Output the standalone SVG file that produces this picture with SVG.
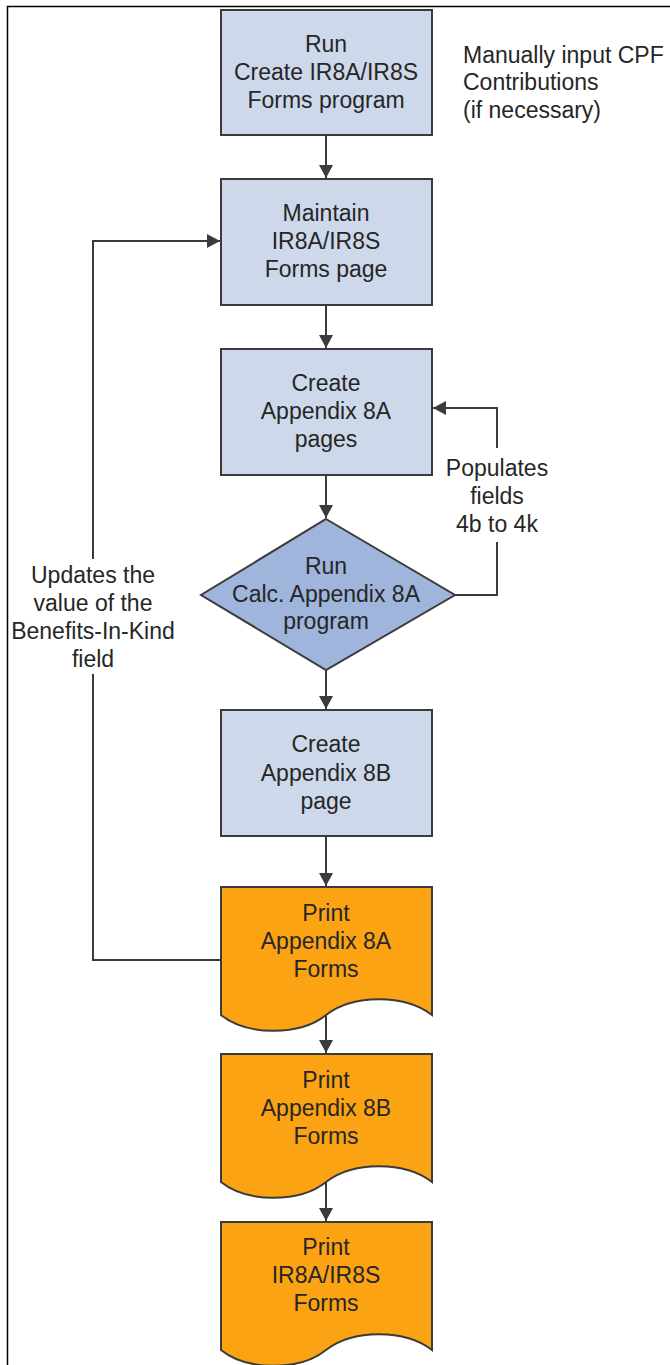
<svg xmlns="http://www.w3.org/2000/svg" width="670" height="1365" viewBox="0 0 670 1365">
<style>
.box{fill:#cdd9eb;stroke:#3b3b3b;stroke-width:2}
.dia{fill:#9fb5dc;stroke:#3b3b3b;stroke-width:2}
.doc{fill:#fba313;stroke:#3b3b3b;stroke-width:2}
.ln{fill:none;stroke:#3b3b3b;stroke-width:2}
text{font-family:"Liberation Sans",Arial,sans-serif;font-size:23px;fill:#262626}
.c{text-anchor:middle}
</style>
<defs>
<marker id="ah" viewBox="0 0 13 14" refX="13" refY="7" markerWidth="13" markerHeight="14" markerUnits="userSpaceOnUse" orient="auto">
<path d="M0,0 L13,7 L0,14 Z" fill="#3b3b3b"/>
</marker>
</defs>
<rect width="670" height="1365" fill="#fff"/>
<path d="M7.5,1365 V6.5 H670" fill="none" stroke="#000" stroke-width="1.5"/>
<g id="connectors">
<path class="ln" d="M326,135 V178" marker-end="url(#ah)"/>
<path class="ln" d="M326,305 V348" marker-end="url(#ah)"/>
<path class="ln" d="M326,475 V518" marker-end="url(#ah)"/>
<path class="ln" d="M326,670 V709" marker-end="url(#ah)"/>
<path class="ln" d="M326,836 V886" marker-end="url(#ah)"/>
<path class="ln" d="M326,1015 V1053" marker-end="url(#ah)"/>
<path class="ln" d="M326,1182 V1221" marker-end="url(#ah)"/>
<path class="ln" d="M455,595 H497 V542"/>
<path class="ln" d="M497,448 V408 H433" marker-end="url(#ah)"/>
<path class="ln" d="M221,960 H93 V674"/>
<path class="ln" d="M93,559 V241 H220" marker-end="url(#ah)"/>
<text class="c" x="497" y="476">Populates</text>
<text class="c" x="497" y="504">fields</text>
<text class="c" x="497" y="532">4b to 4k</text>
<text class="c" x="93" y="583">Updates the</text>
<text class="c" x="93" y="611">value of the</text>
<text class="c" x="93" y="639">Benefits-In-Kind</text>
<text class="c" x="93" y="667">field</text>
</g>
<g id="n1">
<rect class="box" x="221" y="10" width="211" height="125"/>
<text class="c" x="326" y="52">Run</text>
<text class="c" x="326" y="80">Create IR8A/IR8S</text>
<text class="c" x="326" y="108">Forms program</text>
</g>
<g id="note">
<text x="463" y="63">Manually input CPF</text>
<text x="463" y="90">Contributions</text>
<text x="463" y="118">(if necessary)</text>
</g>
<g id="n2">
<rect class="box" x="221" y="179" width="211" height="126"/>
<text class="c" x="326" y="221">Maintain</text>
<text class="c" x="326" y="249">IR8A/IR8S</text>
<text class="c" x="326" y="277">Forms page</text>
</g>
<g id="n3">
<rect class="box" x="221" y="349" width="211" height="126"/>
<text class="c" x="326" y="391">Create</text>
<text class="c" x="326" y="419">Appendix 8A</text>
<text class="c" x="326" y="447">pages</text>
</g>
<g id="n4">
<path class="dia" d="M326,519 L455,595 L326,670 L201,595 Z"/>
<text class="c" x="326" y="574">Run</text>
<text class="c" x="326" y="602">Calc. Appendix 8A</text>
<text class="c" x="326" y="629">program</text>
</g>
<g id="n5">
<rect class="box" x="221" y="710" width="211" height="126"/>
<text class="c" x="326" y="752">Create</text>
<text class="c" x="326" y="781">Appendix 8B</text>
<text class="c" x="326" y="809">page</text>
</g>
<g id="n6">
<path class="doc" d="M221,887 H432 V1015 C405,994 353,994 326,1015 C300,1036 247,1036 221,1015 Z"/>
<text class="c" x="326" y="921">Print</text>
<text class="c" x="326" y="949">Appendix 8A</text>
<text class="c" x="326" y="977">Forms</text>
</g>
<g id="n7">
<path class="doc" d="M221,1054 H432 V1182 C405,1161 353,1161 326,1182 C300,1203 247,1203 221,1182 Z"/>
<text class="c" x="326" y="1088">Print</text>
<text class="c" x="326" y="1116">Appendix 8B</text>
<text class="c" x="326" y="1144">Forms</text>
</g>
<g id="n8">
<path class="doc" d="M221,1222 H432 V1350 C405,1329 353,1329 326,1350 C300,1371 247,1371 221,1350 Z"/>
<text class="c" x="326" y="1255">Print</text>
<text class="c" x="326" y="1283">IR8A/IR8S</text>
<text class="c" x="326" y="1311">Forms</text>
</g>
</svg>
